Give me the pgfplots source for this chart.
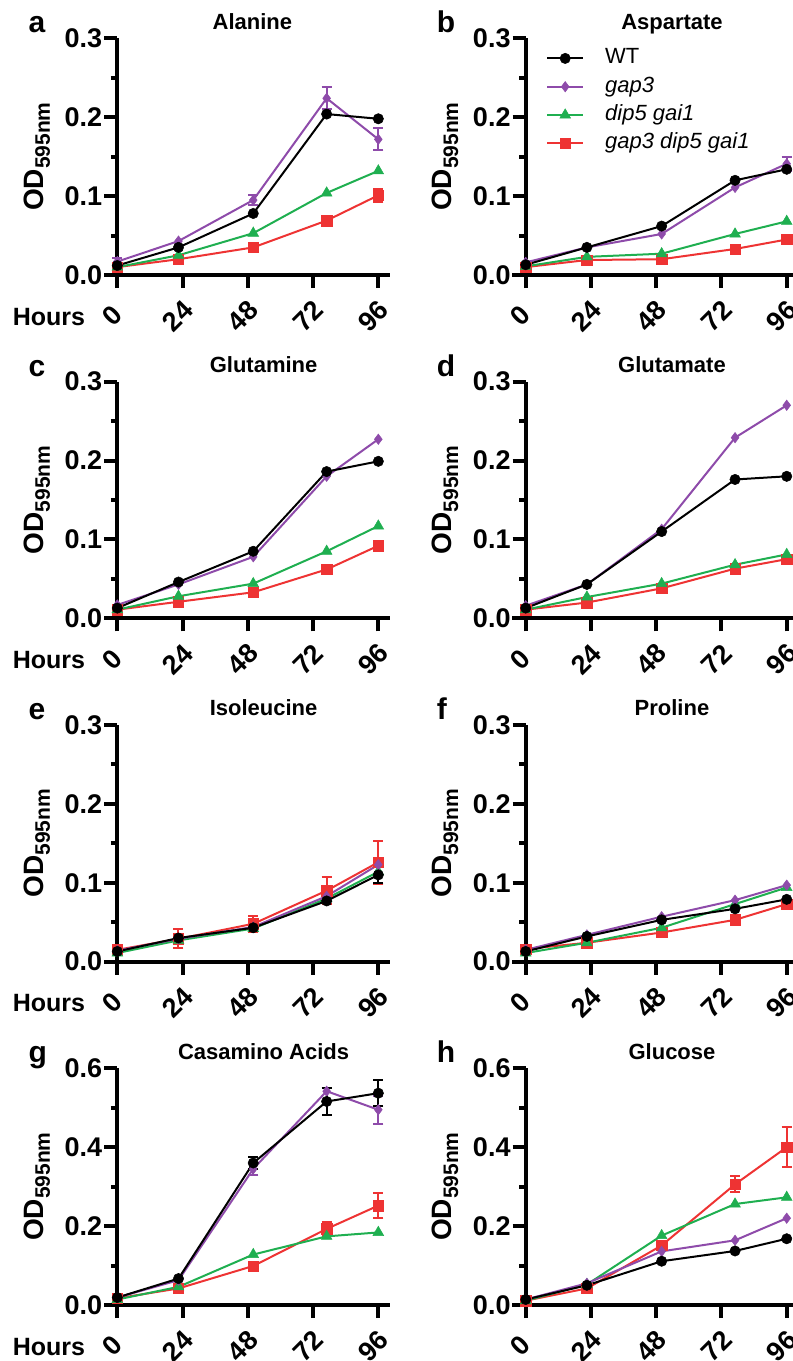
\documentclass[border=0pt]{standalone}
\usepackage{fontspec}
\setmainfont{Liberation Sans}
\usepackage{pgfplots}
\pgfplotsset{compat=1.18}
\definecolor{gapc}{HTML}{8E4BAA}
\definecolor{dipc}{HTML}{1FAF50}
\definecolor{trc}{HTML}{EE3333}
\newcommand{\ticksize}{\bfseries\fontsize{27}{27}\selectfont}

\pgfplotsset{
  panel/.style={
    scale only axis, width=286pt, height=236.7pt,
    xmin=-4.9, xmax=100.3, ymin=0, ymax=0.3,
    clip=false,
    axis x line*=bottom, axis y line*=middle,
    hide obscured x ticks=false, hide obscured y ticks=false,
    axis line style={line width=4pt},
    tick align=outside,
    major tick length=13pt, minor tick length=6.5pt,
    tick style={line width=4pt, black},
    xtick={0,24,48,72,96}, xticklabels={0,24,48,72,96},
    ytick={0,0.1,0.2,0.3}, yticklabels={0.0,0.1,0.2,0.3},
    minor ytick={0.05,0.15,0.25},
    tick label style={font=\ticksize},
    yticklabel style={anchor=east, inner sep=2pt},
    xticklabel style={xshift=-5pt, yshift=-28pt, rotate=45, anchor=center, inner sep=0pt},
    every axis title/.style={font=\bfseries\fontsize{22}{22}\selectfont, at={(axis description cs:0.558,1)}, anchor=base, yshift=9pt},
    every axis plot/.append style={line width=2pt},
  },
  big/.style={ymax=0.6, ytick={0,0.2,0.4,0.6}, yticklabels={0.0,0.2,0.4,0.6}, minor ytick={0.1,0.3,0.5}},
  wt/.style={black, mark=*, mark size=5.2pt, mark options={solid, line width=0.5pt}},
  gp/.style={gapc, mark=diamond*, mark size=5.2pt, mark options={solid, line width=0.5pt}},
  dg/.style={dipc, mark=triangle*, mark size=6.2pt, mark options={solid, line width=0.5pt}},
  tr/.style={trc, mark=square*, mark size=5.2pt, mark options={solid, line width=0.5pt}},
  eb/.style={only marks, mark=none, forget plot,
    error bars/y dir=both, error bars/y explicit,
    error bars/error bar style={line width=2pt},
    error bars/error mark options={rotate=90, mark size=5pt, line width=2pt}},
}
\newcommand{\ylab}{\node[rotate=90, anchor=base, font=\bfseries\fontsize{28}{28}\selectfont] at ([xshift=-60.7pt]axis description cs:0,0.5) {OD\raisebox{-6.5pt}{\fontsize{21}{21}\selectfont 595nm}};}
\newcommand{\plab}[1]{\node[anchor=base west, font=\bfseries\fontsize{30}{30}\selectfont] at ([xshift=-79pt,yshift=5.5pt]axis description cs:0,1) {#1};}
\newcommand{\hours}{\node[anchor=base, font=\bfseries\fontsize{25}{25}\selectfont] at ([xshift=-55pt,yshift=-50pt]axis description cs:0,0) {Hours};}

\begin{document}
\begin{tikzpicture}
\useasboundingbox (0pt,0pt) rectangle (793pt,-1361pt);

% a
\begin{axis}[panel, at={(104pt,-275pt)}, anchor=south west, title={Alanine},
  title style={at={(axis description cs:0.519,1)}}]
\addplot[eb, trc] coordinates {(96,0.101) +- (0,0.008)};
\addplot[tr] coordinates {(0,0.010) (22.5,0.020) (50,0.035) (77,0.069) (96,0.101)};
\addplot[dg] coordinates {(0,0.010) (22.5,0.025) (50,0.053) (77,0.104) (96,0.132)};
\addplot[eb, gapc] coordinates {(0,0.017) +- (0,0.005) (50,0.095) +- (0,0.006) (77,0.224) +- (0,0.014) (96,0.172) +- (0,0.014)};
\addplot[gp] coordinates {(0,0.017) (22.5,0.043) (50,0.095) (77,0.224) (96,0.172)};
\addplot[wt] coordinates {(0,0.012) (22.5,0.035) (50,0.078) (77,0.204) (96,0.198)};
\ylab \plab{a} \hours
\end{axis}

% b
\begin{axis}[panel, at={(512.4pt,-275pt)}, anchor=south west, title={Aspartate},
  reverse legend, legend cell align=left,
  legend style={draw=none, fill=none, at={(axis description cs:0,1)}, anchor=north west,
    xshift=33.6pt, yshift=-9.4pt, inner sep=0pt, row sep=7.3pt, column sep=21pt,
    font=\fontsize{22}{22}\selectfont, nodes={inner sep=0pt, text height=16pt, text depth=5pt}},
  legend image code/.code={\draw[mark repeat=2, mark phase=2, #1] plot coordinates {(0pt,0pt) (18pt,0pt) (36pt,0pt)};}]
\addplot[tr] coordinates {(0,0.010) (22.5,0.019) (50,0.020) (77,0.033) (96,0.045)};
\addlegendentry{\textit{gap3 dip5 gai1}}
\addplot[dg] coordinates {(0,0.011) (22.5,0.023) (50,0.027) (77,0.052) (96,0.068)};
\addlegendentry{\textit{dip5 gai1}}
\addplot[eb, gapc] coordinates {(96,0.141) +- (0,0.009)};
\addplot[gp] coordinates {(0,0.016) (22.5,0.035) (50,0.052) (77,0.111) (96,0.141)};
\addlegendentry{\textit{gap3}}
\addplot[wt] coordinates {(0,0.013) (22.5,0.035) (50,0.062) (77,0.120) (96,0.134)};
\addlegendentry{WT}
\ylab \plab{b}
\end{axis}

% c
\begin{axis}[panel, at={(104pt,-618.33pt)}, anchor=south west, title={Glutamine}]
\addplot[tr] coordinates {(0,0.011) (22.5,0.021) (50,0.033) (77,0.062) (96,0.092)};
\addplot[dg] coordinates {(0,0.011) (22.5,0.028) (50,0.044) (77,0.085) (96,0.117)};
\addplot[gp] coordinates {(0,0.017) (22.5,0.043) (50,0.078) (77,0.180) (96,0.227)};
\addplot[wt] coordinates {(0,0.013) (22.5,0.046) (50,0.085) (77,0.186) (96,0.199)};
\ylab \plab{c} \hours
\end{axis}

% d
\begin{axis}[panel, at={(512.4pt,-618.33pt)}, anchor=south west, title={Glutamate}]
\addplot[tr] coordinates {(0,0.011) (22.5,0.020) (50,0.038) (77,0.063) (96,0.075)};
\addplot[dg] coordinates {(0,0.011) (22.5,0.027) (50,0.044) (77,0.068) (96,0.081)};
\addplot[gp] coordinates {(0,0.016) (22.5,0.043) (50,0.113) (77,0.229) (96,0.270)};
\addplot[wt] coordinates {(0,0.013) (22.5,0.043) (50,0.110) (77,0.176) (96,0.180)};
\ylab \plab{d}
\end{axis}

% e
\begin{axis}[panel, at={(104pt,-961.67pt)}, anchor=south west, title={Isoleucine}]
\addplot[eb, trc] coordinates {(22.5,0.029) +- (0,0.012) (50,0.048) +- (0,0.010) (77,0.090) +- (0,0.017) (96,0.126) +- (0,0.027)};
\addplot[tr] coordinates {(0,0.015) (22.5,0.029) (50,0.048) (77,0.090) (96,0.126)};
\addplot[dg] coordinates {(0,0.011) (22.5,0.027) (50,0.042) (77,0.080) (96,0.114)};
\addplot[gp] coordinates {(0,0.014) (22.5,0.029) (50,0.044) (77,0.083) (96,0.123)};
\addplot[eb, black] coordinates {(96,0.110) +- (0,0.010)};
\addplot[wt] coordinates {(0,0.013) (22.5,0.030) (50,0.043) (77,0.077) (96,0.110)};
\ylab \plab{e} \hours
\end{axis}

% f
\begin{axis}[panel, at={(512.4pt,-961.67pt)}, anchor=south west, title={Proline}]
\addplot[tr] coordinates {(0,0.016) (22.5,0.024) (50,0.037) (77,0.053) (96,0.073)};
\addplot[dg] coordinates {(0,0.011) (22.5,0.024) (50,0.043) (77,0.073) (96,0.094)};
\addplot[gp] coordinates {(0,0.015) (22.5,0.034) (50,0.057) (77,0.078) (96,0.097)};
\addplot[wt] coordinates {(0,0.013) (22.5,0.032) (50,0.053) (77,0.067) (96,0.079)};
\ylab \plab{f}
\end{axis}

% g
\begin{axis}[panel, big, at={(104pt,-1305pt)}, anchor=south west, title={Casamino Acids}]
\addplot[eb, trc] coordinates {(77,0.193) +- (0,0.018) (96,0.252) +- (0,0.031)};
\addplot[tr] coordinates {(0,0.017) (22.5,0.042) (50,0.099) (77,0.193) (96,0.252)};
\addplot[dg] coordinates {(0,0.014) (22.5,0.046) (50,0.128) (77,0.174) (96,0.184)};
\addplot[eb, gapc] coordinates {(50,0.345) +- (0,0.015) (96,0.495) +- (0,0.036)};
\addplot[gp] coordinates {(0,0.019) (22.5,0.063) (50,0.345) (77,0.542) (96,0.495)};
\addplot[eb, black] coordinates {(50,0.360) +- (0,0.015) (77,0.516) +- (0,0.034) (96,0.537) +- (0,0.033)};
\addplot[wt] coordinates {(0,0.019) (22.5,0.067) (50,0.360) (77,0.516) (96,0.537)};
\ylab \plab{g} \hours
\end{axis}

% h
\begin{axis}[panel, big, at={(512.4pt,-1305pt)}, anchor=south west, title={Glucose}]
\addplot[eb, trc] coordinates {(50,0.151) +- (0,0.010) (77,0.306) +- (0,0.020) (96,0.400) +- (0,0.050)};
\addplot[tr] coordinates {(0,0.011) (22.5,0.042) (50,0.151) (77,0.306) (96,0.400)};
\addplot[dg] coordinates {(0,0.011) (22.5,0.052) (50,0.176) (77,0.256) (96,0.273)};
\addplot[gp] coordinates {(0,0.014) (22.5,0.055) (50,0.136) (77,0.164) (96,0.220)};
\addplot[wt] coordinates {(0,0.014) (22.5,0.050) (50,0.111) (77,0.137) (96,0.168)};
\ylab \plab{h}
\end{axis}
\end{tikzpicture}
\end{document}
